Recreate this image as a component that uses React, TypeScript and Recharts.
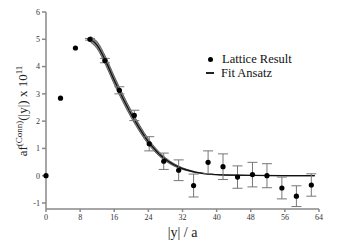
import React from 'react';
import { ComposedChart, Scatter, Line, Area, XAxis, YAxis, ErrorBar } from 'recharts';

// lattice data points (|y|/a, value x 10^11, error)
const latticeX = [0, 3.4, 6.9, 10.3, 13.8, 17.2, 20.7, 24.2, 27.6, 31.1, 34.6, 38.0, 41.5, 44.9, 48.4, 51.8, 55.3, 58.7, 62.2];
const latticeY = [0, 2.84, 4.68, 5.0, 4.22, 3.13, 2.21, 1.17, 0.53, 0.2, -0.36, 0.49, 0.33, -0.05, 0.04, 0.0, -0.45, -0.75, -0.34];
const latticeErr = [0, 0, 0, 0.03, 0.08, 0.13, 0.19, 0.26, 0.3, 0.38, 0.42, 0.42, 0.47, 0.41, 0.45, 0.44, 0.4, 0.38, 0.41];

// fit ansatz curve + its uncertainty
const fitX = [10.4, 12, 14, 16, 18, 20, 22, 24, 26, 28, 30, 32, 34, 36, 38, 40, 44, 48, 56, 63];
const fitY = [5.0, 4.78, 4.2, 3.5, 2.85, 2.25, 1.72, 1.25, 0.88, 0.6, 0.4, 0.26, 0.17, 0.1, 0.06, 0.04, 0.02, 0.01, 0.0, 0.0];
const fitErr = [0.1, 0.13, 0.15, 0.15, 0.14, 0.13, 0.12, 0.1, 0.08, 0.06, 0.045, 0.03, 0.02, 0.012, 0.006, 0, 0, 0, 0, 0];

const xTicks = [0, 8, 16, 24, 32, 40, 48, 56, 64];
const yTicks = [-1, 0, 1, 2, 3, 4, 5, 6];

const lattice = latticeX.map((x, i) => ({ x, y: latticeY[i], err: latticeErr[i] }));
const fit = fitX.map((x, i) => ({ x, fit: fitY[i], band: [fitY[i] - fitErr[i], fitY[i] + fitErr[i]] }));

const serif = '"Liberation Serif", "DejaVu Serif", serif';
const tickStyle = { fontSize: 8, fill: '#333', fontFamily: serif };

function YLabel() {
  return (
    <text transform="translate(27,111) rotate(-90)" textAnchor="middle" fontFamily={serif} fontSize={13} fill="#222">
      af<tspan fontSize={9} dy={-5}>(Conn)</tspan>
      <tspan dy={5}>(|y|) x 10</tspan>
      <tspan fontSize={9} dy={-5}>11</tspan>
    </text>
  );
}

function LegendBox() {
  const row: React.CSSProperties = { display: 'flex', alignItems: 'center', height: 14, lineHeight: '14px', fontFamily: serif, fontSize: 12.5, color: '#111', whiteSpace: 'nowrap' };
  return (
    <div style={{ position: 'absolute', left: 204, top: 52 }}>
      <div style={row}>
        <span style={{ width: 5, height: 5, borderRadius: 3, background: '#000', margin: '0 9px 0 4px' }} />
        Lattice Result
      </div>
      <div style={row}>
        <span style={{ width: 8, height: 1.5, background: '#222', margin: '0 7px 0 2px' }} />
        Fit Ansatz
      </div>
    </div>
  );
}

export default function App() {
  return (
    <div style={{ position: 'absolute', left: 0, top: 0, width: 351, height: 248, background: '#fff' }}>
      <ComposedChart width={351} height={248} margin={{ top: 12, right: 32, bottom: 0, left: 0 }}>
        <XAxis
          dataKey="x"
          type="number"
          domain={[0, 64]}
          ticks={xTicks}
          tick={tickStyle}
          tickSize={3}
          height={39}
          stroke="#888"
          strokeWidth={1.5}
          label={{ value: '|y| / a', position: 'insideBottom', offset: 11, style: { fontSize: 14, fill: '#222', fontFamily: serif } }}
        />
        <XAxis xAxisId="top" orientation="top" type="number" domain={[0, 64]} tick={false} tickLine={false} stroke="#888" strokeWidth={1.5} height={0} />
        <YAxis
          type="number"
          domain={[-1.22, 6]}
          ticks={yTicks}
          tick={tickStyle}
          tickSize={4}
          width={46}
          stroke="#888"
          strokeWidth={1.5}
          label={<YLabel />}
        />
        <YAxis yAxisId="right" orientation="right" type="number" domain={[-1.22, 6]} tick={false} tickLine={false} stroke="#888" strokeWidth={1.5} width={0} />
        <Area data={fit} dataKey="band" type="monotone" fill="#8c8c8c" fillOpacity={1} stroke="#444" strokeWidth={0.8} isAnimationActive={false} />
        <Line data={fit} dataKey="fit" type="monotone" stroke="#111" strokeWidth={1.3} dot={false} isAnimationActive={false} />
        <Scatter data={lattice} dataKey="y" fill="#000" shape={(p: any) => <circle cx={p.cx} cy={p.cy} r={2.6} fill="#000" />} isAnimationActive={false}>
          <ErrorBar dataKey="err" direction="y" width={5} stroke="#777" strokeWidth={1} />
        </Scatter>
      </ComposedChart>
      <LegendBox />
    </div>
  );
}
